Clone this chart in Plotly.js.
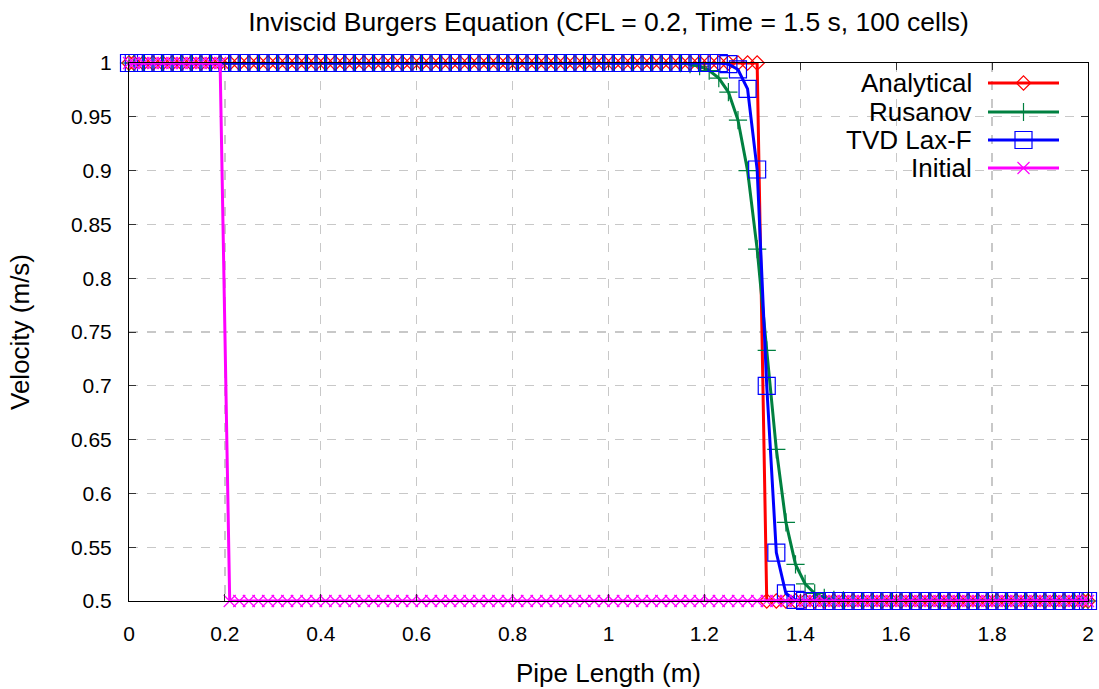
<!DOCTYPE html>
<html>
<head>
<meta charset="utf-8">
<script src="https://cdn.plot.ly/plotly-3.0.1.min.js"></script>
<style>
  html, body { margin: 0; padding: 0; background: #fff; }
  #chart { width: 1099px; height: 689px; }
</style>
</head>
<body>
<div id="chart"></div>
<script>
// Grid: domain ends plus the 100 cell centres (dx = 0.02 m)
const pipeX = [
  0,
  0.01, 0.03, 0.05, 0.07, 0.09, 0.11, 0.13, 0.15, 0.17, 0.19,
  0.21, 0.23, 0.25, 0.27, 0.29, 0.31, 0.33, 0.35, 0.37, 0.39,
  0.41, 0.43, 0.45, 0.47, 0.49, 0.51, 0.53, 0.55, 0.57, 0.59,
  0.61, 0.63, 0.65, 0.67, 0.69, 0.71, 0.73, 0.75, 0.77, 0.79,
  0.81, 0.83, 0.85, 0.87, 0.89, 0.91, 0.93, 0.95, 0.97, 0.99,
  1.01, 1.03, 1.05, 1.07, 1.09, 1.11, 1.13, 1.15, 1.17, 1.19,
  1.21, 1.23, 1.25, 1.27, 1.29, 1.31, 1.33, 1.35, 1.37, 1.39,
  1.41, 1.43, 1.45, 1.47, 1.49, 1.51, 1.53, 1.55, 1.57, 1.59,
  1.61, 1.63, 1.65, 1.67, 1.69, 1.71, 1.73, 1.75, 1.77, 1.79,
  1.81, 1.83, 1.85, 1.87, 1.89, 1.91, 1.93, 1.95, 1.97, 1.99,
  2
];

// Exact shock solution at t = 1.5 s
const analytical = [
  1,
  1, 1, 1, 1, 1, 1, 1, 1, 1, 1,
  1, 1, 1, 1, 1, 1, 1, 1, 1, 1,
  1, 1, 1, 1, 1, 1, 1, 1, 1, 1,
  1, 1, 1, 1, 1, 1, 1, 1, 1, 1,
  1, 1, 1, 1, 1, 1, 1, 1, 1, 1,
  1, 1, 1, 1, 1, 1, 1, 1, 1, 1,
  1, 1, 1, 1, 1, 1, 0.5, 0.5, 0.5, 0.5,
  0.5, 0.5, 0.5, 0.5, 0.5, 0.5, 0.5, 0.5, 0.5, 0.5,
  0.5, 0.5, 0.5, 0.5, 0.5, 0.5, 0.5, 0.5, 0.5, 0.5,
  0.5, 0.5, 0.5, 0.5, 0.5, 0.5, 0.5, 0.5, 0.5, 0.5,
  0.5
];

// Rusanov (local Lax-Friedrichs) scheme
const rusanov = [
  1,
  1, 1, 1, 1, 1, 1, 1, 1, 1, 1,
  1, 1, 1, 1, 1, 1, 1, 1, 1, 1,
  1, 1, 1, 1, 1, 1, 1, 1, 1, 1,
  1, 1, 1, 1, 1, 1, 1, 1, 1, 1,
  1, 1, 1, 1, 1, 1, 1, 1, 1, 1,
  1, 1, 1, 1, 1, 1, 1, 0.9998, 0.999, 0.997,
  0.993, 0.986, 0.973, 0.947, 0.900, 0.827, 0.733, 0.641, 0.573, 0.534,
  0.516, 0.507, 0.503, 0.501, 0.5005, 0.5, 0.5, 0.5, 0.5, 0.5,
  0.5, 0.5, 0.5, 0.5, 0.5, 0.5, 0.5, 0.5, 0.5, 0.5,
  0.5, 0.5, 0.5, 0.5, 0.5, 0.5, 0.5, 0.5, 0.5, 0.5,
  0.5
];

// TVD Lax-Friedrichs scheme
const tvdLaxF = [
  1,
  1, 1, 1, 1, 1, 1, 1, 1, 1, 1,
  1, 1, 1, 1, 1, 1, 1, 1, 1, 1,
  1, 1, 1, 1, 1, 1, 1, 1, 1, 1,
  1, 1, 1, 1, 1, 1, 1, 1, 1, 1,
  1, 1, 1, 1, 1, 1, 1, 1, 1, 1,
  1, 1, 1, 1, 1, 1, 1, 1, 1, 1,
  1, 1, 0.999, 0.994, 0.976, 0.901, 0.700, 0.545, 0.507, 0.501,
  0.5, 0.5, 0.5, 0.5, 0.5, 0.5, 0.5, 0.5, 0.5, 0.5,
  0.5, 0.5, 0.5, 0.5, 0.5, 0.5, 0.5, 0.5, 0.5, 0.5,
  0.5, 0.5, 0.5, 0.5, 0.5, 0.5, 0.5, 0.5, 0.5, 0.5,
  0.5
];

// Initial step at x = 0.2 m
const initial = [
  1,
  1, 1, 1, 1, 1, 1, 1, 1, 1, 1,
  0.5, 0.5, 0.5, 0.5, 0.5, 0.5, 0.5, 0.5, 0.5, 0.5,
  0.5, 0.5, 0.5, 0.5, 0.5, 0.5, 0.5, 0.5, 0.5, 0.5,
  0.5, 0.5, 0.5, 0.5, 0.5, 0.5, 0.5, 0.5, 0.5, 0.5,
  0.5, 0.5, 0.5, 0.5, 0.5, 0.5, 0.5, 0.5, 0.5, 0.5,
  0.5, 0.5, 0.5, 0.5, 0.5, 0.5, 0.5, 0.5, 0.5, 0.5,
  0.5, 0.5, 0.5, 0.5, 0.5, 0.5, 0.5, 0.5, 0.5, 0.5,
  0.5, 0.5, 0.5, 0.5, 0.5, 0.5, 0.5, 0.5, 0.5, 0.5,
  0.5, 0.5, 0.5, 0.5, 0.5, 0.5, 0.5, 0.5, 0.5, 0.5,
  0.5, 0.5, 0.5, 0.5, 0.5, 0.5, 0.5, 0.5, 0.5, 0.5,
  0.5
];

const xTickVals = [0, 0.2, 0.4, 0.6, 0.8, 1, 1.2, 1.4, 1.6, 1.8, 2];
const xTickText = ['0', '0.2', '0.4', '0.6', '0.8', '1', '1.2', '1.4', '1.6', '1.8', '2'];
const yTickVals = [0.5, 0.55, 0.6, 0.65, 0.7, 0.75, 0.8, 0.85, 0.9, 0.95, 1];
const yTickText = ['0.5', '0.55', '0.6', '0.65', '0.7', '0.75', '0.8', '0.85', '0.9', '0.95', '1'];

const seriesNames = ['Analytical', 'Rusanov', 'TVD Lax-F', 'Initial'];
const seriesData = [analytical, rusanov, tvdLaxF, initial];
const seriesColors = ['#ff0000', '#008040', '#0000ff', '#ff00ff'];
const seriesSymbols = ['diamond-open', 'cross-thin-open', 'square-open', 'x-thin-open'];
const seriesMarkerSizes = [11, 13, 17, 12];

const FONT = '"Liberation Sans", Arial, Helvetica, sans-serif';
const TICK_SIZE = 21;
const LABEL_SIZE = 26;
const TITLE_SIZE = 26.5;

// Page geometry (pixels) of the plotting box and the key
const W = 1099, H = 689;
const box = { left: 129, right: 1088, top: 63, bottom: 601 };
const keyTextRight = 974;
const keyLineFrom = 988, keyLineTo = 1059;
const keyRowsY = [83, 112, 140, 168];
const keyPanel = { left: 845, right: 1071, top: 66, bottom: 182 };

const px = v => (v - box.left) / (box.right - box.left);
const py = v => (box.bottom - v) / (box.bottom - box.top);

const traces = [];
seriesData.forEach((ys, i) => {
  traces.push({
    x: pipeX,
    y: ys,
    type: 'scatter',
    mode: 'lines+markers',
    name: seriesNames[i],
    showlegend: false,
    line: { color: seriesColors[i], width: 3 },
    marker: {
      symbol: seriesSymbols[i],
      size: seriesMarkerSizes[i],
      color: seriesColors[i],
      line: { color: seriesColors[i], width: 1.2 }
    },
    cliponaxis: false
  });
});

// Key samples drawn on an overlay axis spanning the plotting box (0..1)
const annotations = [];
seriesNames.forEach((name, i) => {
  const yk = py(keyRowsY[i]);
  traces.push({
    x: [px(keyLineFrom), px(keyLineTo)],
    y: [yk, yk],
    xaxis: 'x2', yaxis: 'y2',
    type: 'scatter', mode: 'lines',
    showlegend: false, hoverinfo: 'skip',
    line: { color: seriesColors[i], width: 3 }
  });
  traces.push({
    x: [px((keyLineFrom + keyLineTo) / 2)],
    y: [yk],
    xaxis: 'x2', yaxis: 'y2',
    type: 'scatter', mode: 'markers',
    showlegend: false, hoverinfo: 'skip',
    marker: {
      symbol: seriesSymbols[i],
      size: seriesMarkerSizes[i],
      color: seriesColors[i],
      line: { color: seriesColors[i], width: 1.2 }
    }
  });
  annotations.push({
    xref: 'paper', yref: 'paper',
    x: px(keyTextRight), y: yk,
    xanchor: 'right', yanchor: 'middle',
    text: name, showarrow: false,
    font: { family: FONT, size: LABEL_SIZE, color: '#000' }
  });
});

const axisCommon = {
  showline: true, linecolor: '#000', linewidth: 1, mirror: 'ticks',
  ticks: 'inside', ticklen: 7, tickwidth: 1, tickcolor: '#333',
  showgrid: true, gridcolor: '#c8c8c8', gridwidth: 1.2, griddash: 'dash',
  zeroline: false,
  tickfont: { family: FONT, size: TICK_SIZE, color: '#000' }
};

const layout = {
  width: W, height: H,
  paper_bgcolor: '#fff', plot_bgcolor: '#fff',
  margin: { l: box.left, r: W - box.right, t: box.top, b: H - box.bottom, pad: 0 },
  title: {
    text: 'Inviscid Burgers Equation (CFL = 0.2, Time = 1.5 s, 100 cells)',
    font: { family: FONT, size: TITLE_SIZE, color: '#000' },
    x: 0.5, xref: 'paper', xanchor: 'center',
    y: 1 - 22 / H, yref: 'container', yanchor: 'middle'
  },
  xaxis: Object.assign({}, axisCommon, {
    range: [0, 2], tickvals: xTickVals, ticktext: xTickText,
    ticklabelstandoff: 14,
    title: { text: 'Pipe Length (m)', font: { family: FONT, size: LABEL_SIZE, color: '#000' }, standoff: 19 }
  }),
  yaxis: Object.assign({}, axisCommon, {
    range: [0.5, 1], tickvals: yTickVals, ticktext: yTickText,
    ticklabelstandoff: 12,
    title: { text: 'Velocity (m/s)', font: { family: FONT, size: LABEL_SIZE, color: '#000' }, standoff: 33 }
  }),
  xaxis2: { overlaying: 'x', range: [0, 1], visible: false, fixedrange: true },
  yaxis2: { overlaying: 'y', range: [0, 1], visible: false, fixedrange: true },
  shapes: [{
    type: 'rect', xref: 'paper', yref: 'paper', layer: 'between',
    x0: px(keyPanel.left), x1: px(keyPanel.right),
    y0: py(keyPanel.bottom), y1: py(keyPanel.top),
    fillcolor: '#fff', line: { width: 0 }
  }],
  annotations: annotations,
  showlegend: false
};

Plotly.newPlot('chart', traces, layout, { displayModeBar: false, staticPlot: true });
</script>
</body>
</html>
